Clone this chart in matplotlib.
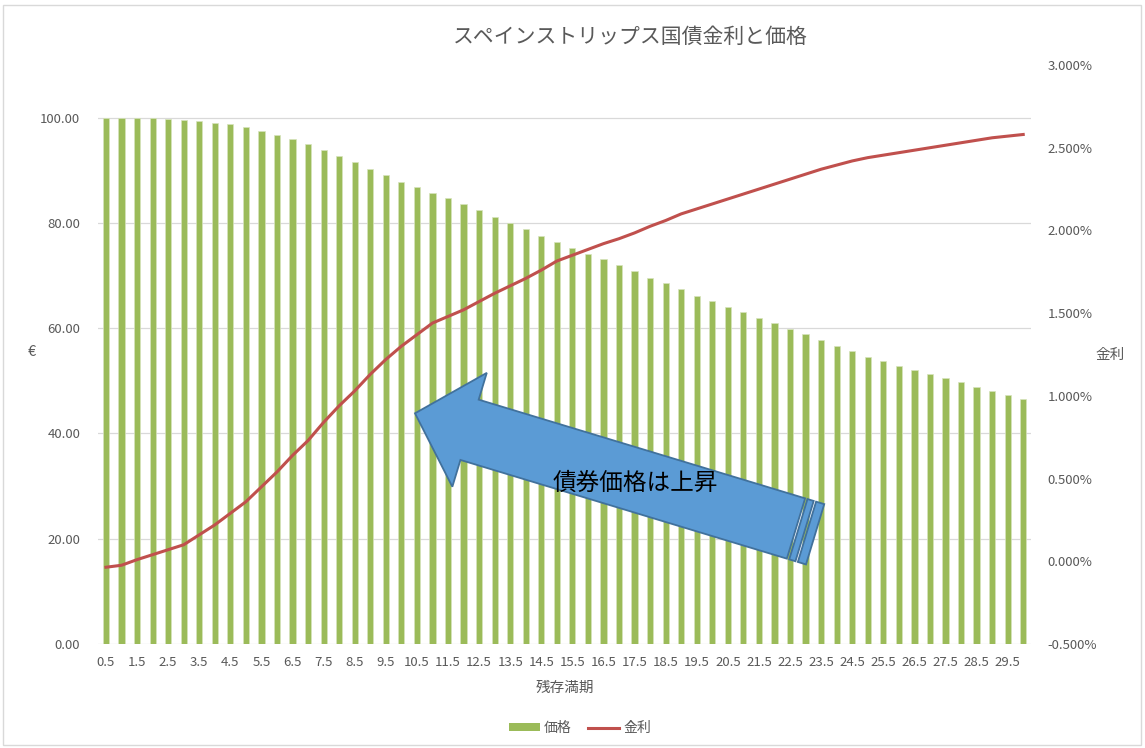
import numpy as np
import matplotlib
matplotlib.use("Agg")
import matplotlib.pyplot as plt
from matplotlib.patches import Polygon, Rectangle, Patch
from matplotlib.lines import Line2D
from matplotlib.ticker import FuncFormatter, MultipleLocator

plt.rcParams['font.family'] = ['Noto Sans CJK JP', 'DejaVu Sans']

# remaining maturity (years)
maturity = ['%g' % (0.5 * (i + 1)) for i in range(60)]

# strip price (EUR)
price = [100.0, 100.0, 100.0, 100.0, 99.8, 99.6, 99.4, 99.05, 98.7, 98.2,
         97.5, 96.7, 95.95, 95.0, 93.9, 92.8, 91.5, 90.25, 89.1, 87.85,
         86.8, 85.7, 84.65, 83.6, 82.4, 81.2, 80.0, 78.8, 77.5, 76.4,
         75.3, 74.1, 73.05, 72.0, 70.8, 69.6, 68.5, 67.4, 66.2, 65.1,
         64.1, 63.0, 62.0, 61.0, 59.8, 58.8, 57.8, 56.65, 55.65, 54.6,
         53.8, 52.9, 52.1, 51.3, 50.5, 49.7, 48.9, 48.1, 47.3, 46.6]

# yield (%)
rate = [-0.036, -0.024, 0.01, 0.04, 0.07, 0.10, 0.16, 0.22, 0.29, 0.36,
        0.45, 0.54, 0.64, 0.73, 0.84, 0.94, 1.03, 1.13, 1.22, 1.30,
        1.37, 1.44, 1.48, 1.52, 1.57, 1.62, 1.665, 1.71, 1.76, 1.815,
        1.85, 1.885, 1.92, 1.95, 1.985, 2.025, 2.06, 2.10, 2.13, 2.16,
        2.19, 2.22, 2.25, 2.28, 2.31, 2.34, 2.37, 2.395, 2.42, 2.44,
        2.455, 2.47, 2.485, 2.50, 2.515, 2.53, 2.545, 2.56, 2.57, 2.58]

W, H = 1145, 748
GREY = '#595959'
GREEN = '#9BBB59'
RED = '#C0504D'

fig = plt.figure(figsize=(W / 100, H / 100), dpi=100)
fig.patches.append(Rectangle((3 / W, 3 / H), 1 - 7 / W, 1 - 8 / H,
                             transform=fig.transFigure, fill=False,
                             edgecolor='#D9D9D9', linewidth=1.0))

ax = fig.add_axes([98.2 / W, 104 / H, 932.8 / W, 579 / H])
ax.bar(maturity, price, width=0.4, color=GREEN, edgecolor='#D7E4BD',
       linewidth=0.5, zorder=2)
ax.set_xlim(-0.5, len(maturity) - 0.5)
ax.set_ylim(0, 110)
ax.set_yticks(np.arange(0, 101, 20))
ax.yaxis.set_major_formatter(FuncFormatter(lambda v, p: f'{v:.2f}'))
ax.set_xticks(range(0, len(maturity), 2))
ax.set_xticklabels(maturity[::2])
ax.grid(axis='y', color='#D9D9D9', linewidth=0.9, zorder=0)
ax.set_axisbelow(True)
for s in ax.spines.values():
    s.set_visible(False)
ax.tick_params(axis='both', length=0, labelsize=9.5, labelcolor=GREY)
ax.tick_params(axis='y', pad=13)
ax.tick_params(axis='x', pad=9)
ax.set_xlabel('残存満期', fontsize=10.5, color=GREY, labelpad=8)

ax2 = ax.twinx()
ax2.plot(maturity, rate, color=RED, linewidth=2.2, zorder=3)
ax2.set_ylim(-0.5, 3.0)
ax2.yaxis.set_major_locator(MultipleLocator(0.5))
ax2.yaxis.set_major_formatter(FuncFormatter(lambda v, p: f'{v:.3f}%'))
for s in ax2.spines.values():
    s.set_visible(False)
ax2.tick_params(axis='y', length=0, labelsize=9.5, labelcolor=GREY, pad=12)

fig.text(630 / W, 1 - 37 / H, 'スペインストリップス国債金利と価格',
         ha='center', va='center', fontsize=15, color=GREY)
fig.text(32 / W, 1 - 352 / H, '€', ha='center', va='center',
         fontsize=10.5, color=GREY)
fig.text(1110 / W, 1 - 355 / H, '金利', ha='center', va='center',
         fontsize=10.5, color=GREY)

# striped block arrow pointing up-left, built in pixel space
tip = np.array([415.0, 413.3])
u = np.array([-383.3, -115.9])
u /= np.hypot(*u)
n = np.array([u[1], -u[0]])


def px(s, t):
    p = tip + s * u + t * n
    return (p[0] / W, 1 - p[1] / H)


head_len, head_w, shaft_w = 57.0, 59.5, 31.5
body_end = -398.0
arrow_pts = [px(0, 0), px(-head_len, head_w), px(-head_len, shaft_w),
             px(body_end, shaft_w), px(body_end, -shaft_w),
             px(-head_len, -shaft_w), px(-head_len, -head_w)]
style = dict(transform=fig.transFigure, facecolor='#5B9BD5',
             edgecolor='#41719C', linewidth=1.3, zorder=5)
fig.patches.append(Polygon(arrow_pts, closed=True, **style))
for a, b in [(-400.5, -407.0), (-409.5, -418.0)]:
    fig.patches.append(Polygon([px(a, shaft_w), px(b, shaft_w),
                                px(b, -shaft_w), px(a, -shaft_w)],
                               closed=True, **style))
fig.text(635.5 / W, 1 - 483 / H, '債券価格は上昇', ha='center', va='center',
         fontsize=17, color='black', zorder=6)

handles = [Patch(facecolor=GREEN, edgecolor='none'),
           Line2D([], [], color=RED, linewidth=2.2)]
fig.legend(handles, ['価格', '金利'], loc='center', ncol=2, frameon=False,
           bbox_to_anchor=(580 / W, 1 - 728 / H), fontsize=10,
           labelcolor=GREY, handlelength=2.2, handleheight=0.5,
           columnspacing=1.2, handletextpad=0.3)

fig.savefig('out.png', dpi=100)
